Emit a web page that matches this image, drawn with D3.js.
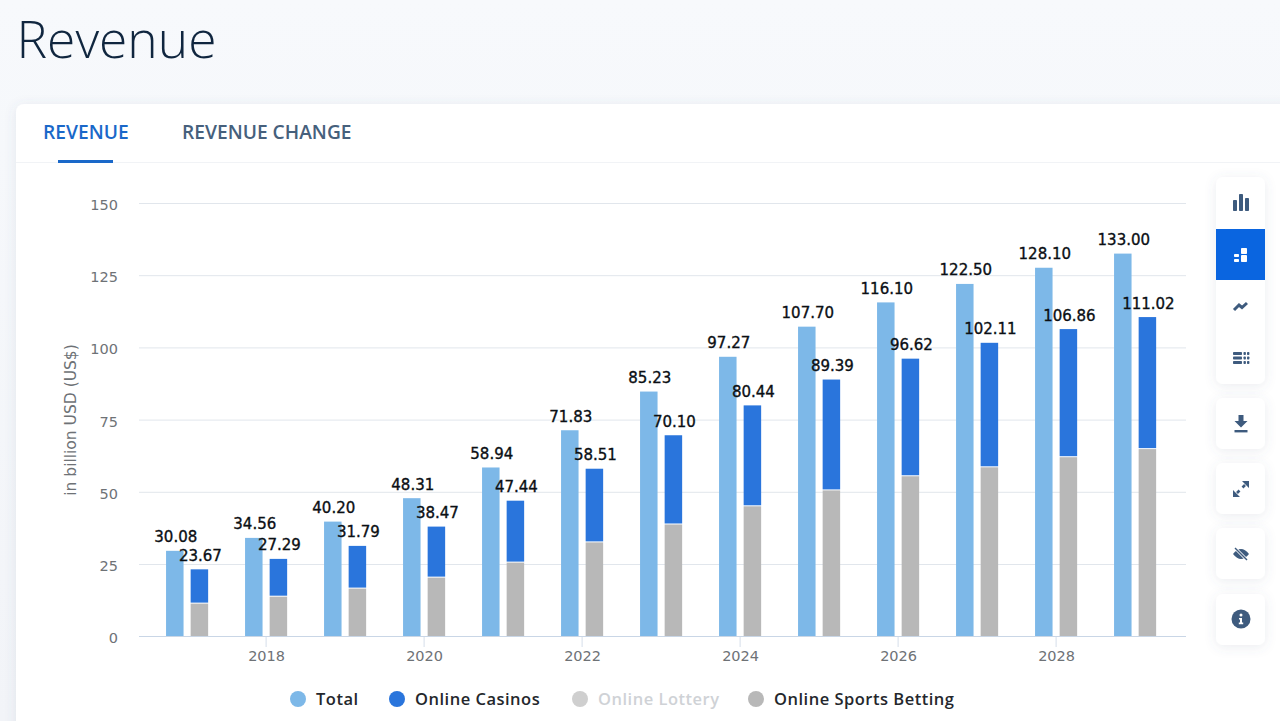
<!DOCTYPE html>
<html>
<head>
<meta charset="utf-8">
<script src="https://cdn.jsdelivr.net/npm/d3@7"></script>
<style>
  html, body { margin: 0; padding: 0; background: #f5f7fb; overflow: hidden; }
  svg { display: block; }
  .grid line { stroke: #e1e6ec; stroke-width: 1; }
  .tick-label { font-family: "DejaVu Sans", sans-serif; font-size: 14.5px; fill: #6e7276; }
  .axis-title { font-family: "DejaVu Sans", sans-serif; font-size: 15.5px; fill: #6e7276; }
  .bar-label { font-family: "DejaVu Sans", sans-serif; font-size: 15px; fill: #0b0f14; stroke: #0b0f14; stroke-width: 0.35px; text-anchor: middle; }
  .legend-label { font-family: "Open Sans", sans-serif; font-size: 16.5px; font-weight: 600; letter-spacing: 0.5px; }
</style>
</head>
<body>
<svg id="chart" width="1280" height="721"></svg>
<script>
    const years = [2017, 2018, 2019, 2020, 2021, 2022, 2023, 2024, 2025, 2026, 2027, 2028, 2029];
    const total = [30.08, 34.56, 40.20, 48.31, 58.94, 71.83, 85.23, 97.27, 107.70, 116.10, 122.50, 128.10, 133.00];
    // top of the stacked bar, this is the number printed above it
    const stackTop = [23.67, 27.29, 31.79, 38.47, 47.44, 58.51, 70.10, 80.44, 89.39, 96.62, 102.11, 106.86, 111.02];
    const sportsBetting = [11.8, 14.2, 17.0, 20.8, 26.0, 33.0, 39.2, 45.5, 51.0, 55.9, 59.0, 62.5, 65.3];
    const yTicks = [0, 25, 50, 75, 100, 125, 150];
    const xTicks = [2018, 2020, 2022, 2024, 2026, 2028];
    const legendItems = ["Total", "Online Casinos", "Online Lottery", "Online Sports Betting"];
    const legendColors = ["#7db8e8", "#2a75dc", "#cfcfcf", "#b8b8b8"];

    const svg = d3.select("#chart");
    const defs = svg.append("defs");

    // page background gets a bit darker just above the card
    const bg = defs.append("linearGradient").attr("id", "page-bg").attr("x1", 0).attr("x2", 0).attr("y1", 0).attr("y2", 1);
    bg.append("stop").attr("offset", "0%").attr("stop-color", "#f7f9fc");
    bg.append("stop").attr("offset", "100%").attr("stop-color", "#f2f4f8");
    svg.append("rect").attr("width", 1280).attr("height", 721).attr("fill", "url(#page-bg)");

    const shadow = defs.append("filter").attr("id", "soft").attr("x", "-30%").attr("y", "-30%").attr("width", "160%").attr("height", "160%");
    shadow.append("feDropShadow").attr("dx", 0).attr("dy", 2).attr("stdDeviation", 6).attr("flood-color", "#5a6b85").attr("flood-opacity", 0.12);

    // title
    svg.append("text").attr("x", 16.5).attr("y", 58)
        .attr("font-family", "'Open Sans', sans-serif").attr("font-weight", 300).attr("font-size", 51.5)
        .attr("fill", "#10263f").text("Revenue");

    // card
    svg.append("rect").attr("x", 16).attr("y", 104).attr("width", 1290).attr("height", 660).attr("rx", 8)
        .attr("fill", "#fff").attr("filter", "url(#soft)");
    svg.append("line").attr("x1", 16).attr("x2", 1280).attr("y1", 162.5).attr("y2", 162.5).attr("stroke", "#f1f3f6");

    // tabs
    svg.append("text").attr("x", 43).attr("y", 139)
        .attr("font-family", "'Open Sans', sans-serif").attr("font-weight", 600).attr("font-size", 19.2)
        .attr("fill", "#1a68c9").text("REVENUE");
    svg.append("text").attr("x", 182).attr("y", 139)
        .attr("font-family", "'Open Sans', sans-serif").attr("font-weight", 600).attr("font-size", 19.2)
        .attr("fill", "#46607c").text("REVENUE CHANGE");
    svg.append("rect").attr("x", 58).attr("y", 160).attr("width", 55).attr("height", 3).attr("fill", "#1a68c9");

    // scales
    const x = d3.scaleBand().domain(years).range([147.6, 1174.6]);
    const xSub = d3.scalePoint().domain(["total", "stack"]).range([x.bandwidth() / 2 - 12.3, x.bandwidth() / 2 + 12.3]);
    const y = d3.scaleLinear().domain([0, 150]).range([636.7, 203.5]);
    const barW = 17.5;
    const topGap = 1; // bars have a thin white edge on top

    // grid
    const grid = svg.append("g").attr("class", "grid");
    grid.selectAll("line").data(yTicks.filter(d => d > 0)).join("line")
        .attr("x1", 139).attr("x2", 1186)
        .attr("y1", d => y(d)).attr("y2", d => y(d));

    svg.selectAll(".y-label").data(yTicks).join("text")
        .attr("class", "tick-label")
        .attr("x", 118).attr("y", d => y(d) + 6.5)
        .attr("text-anchor", "end")
        .text(d => d);

    svg.append("text").attr("class", "axis-title")
        .attr("transform", "translate(76,420) rotate(-90)")
        .attr("text-anchor", "middle")
        .text("in billion USD (US$)");

    // bars
    const idx = d3.range(years.length);
    const barX = (i, key) => x(years[i]) + xSub(key) - barW / 2;

    svg.append("g").selectAll("rect").data(idx).join("rect")
        .attr("x", i => barX(i, "total")).attr("width", barW)
        .attr("y", i => y(total[i]) + topGap).attr("height", i => y(0) - y(total[i]) - topGap)
        .attr("fill", legendColors[0]);

    svg.append("g").selectAll("rect").data(idx).join("rect")
        .attr("x", i => barX(i, "stack")).attr("width", barW)
        .attr("y", i => y(stackTop[i]) + topGap).attr("height", i => y(sportsBetting[i]) - y(stackTop[i]) - topGap)
        .attr("fill", legendColors[1]);

    svg.append("g").selectAll("rect").data(idx).join("rect")
        .attr("x", i => barX(i, "stack")).attr("width", barW)
        .attr("y", i => y(sportsBetting[i]) + topGap).attr("height", i => y(0) - y(sportsBetting[i]) - topGap)
        .attr("fill", legendColors[3]);

    // x axis
    svg.append("line").attr("x1", 139).attr("x2", 1186).attr("y1", 636.5).attr("y2", 636.5)
        .attr("stroke", "#c9d6e6").attr("stroke-width", 1.2);
    svg.selectAll(".x-tick").data(xTicks).join("line")
        .attr("x1", d => x(d) + x.bandwidth() / 2).attr("x2", d => x(d) + x.bandwidth() / 2)
        .attr("y1", 637).attr("y2", 647).attr("stroke", "#d5deea");
    svg.selectAll(".x-label").data(xTicks).join("text")
        .attr("class", "tick-label")
        .attr("x", d => x(d) + x.bandwidth() / 2 + 0.5).attr("y", 661)
        .attr("text-anchor", "middle")
        .text(d => d);

    // value labels
    svg.append("g").selectAll("text").data(idx).join("text")
        .attr("class", "bar-label")
        .attr("x", i => barX(i, "total") + barW / 2 + 1).attr("y", i => y(total[i]) - 7.5)
        .text(i => total[i].toFixed(2));
    svg.append("g").selectAll("text").data(idx).join("text")
        .attr("class", "bar-label")
        .attr("x", i => barX(i, "stack") + barW / 2 + 1).attr("y", i => y(stackTop[i]) - 7.5)
        .text(i => stackTop[i].toFixed(2));

    // legend
    const legendX = [298, 397, 580, 756];
    const legend = svg.append("g").selectAll("g").data(legendItems).join("g")
        .attr("transform", (d, i) => "translate(" + legendX[i] + ",699)");
    legend.append("circle").attr("r", 8).attr("fill", (d, i) => legendColors[i]);
    legend.append("text").attr("class", "legend-label").attr("x", 18).attr("y", 6)
        .attr("fill", (d, i) => i === 2 ? "#cfd2d6" : "#24272c")
        .text(d => d);

    // toolbar on the right
    const iconColor = "#3e5b7e";
    const toolbar = svg.append("g");
    toolbar.append("rect").attr("x", 1216).attr("y", 177).attr("width", 49).attr("height", 207).attr("rx", 7)
        .attr("fill", "#fff").attr("filter", "url(#soft)");
    toolbar.append("rect").attr("x", 1216).attr("y", 229).attr("width", 49).attr("height", 51).attr("fill", "#0a65e0");
    [398, 463, 528, 594].forEach(function (top) {
        toolbar.append("rect").attr("x", 1216).attr("y", top).attr("width", 49).attr("height", 51).attr("rx", 7)
            .attr("fill", "#fff").attr("filter", "url(#soft)");
    });

    function icon(cx, cy) {
        return toolbar.append("g").attr("transform", "translate(" + cx + "," + cy + ")");
    }
    function blocks(g, list, color) {
        g.selectAll(null).data(list).join("rect")
            .attr("x", d => d[0]).attr("y", d => d[1]).attr("width", d => d[2]).attr("height", d => d[3])
            .attr("rx", 0.8).attr("fill", color);
    }

    blocks(icon(1241, 203), [[-8, -3, 4, 11], [-2, -9, 4, 17], [4, -5, 4, 13]], iconColor);
    blocks(icon(1241, 255), [[-7, -1, 5, 3], [-7, 4, 5, 3], [0, -7, 6, 6], [0, 0, 6, 7]], "#fff");

    icon(1241, 306).append("path")
        .attr("d", "M-7,4 L-2,-1 L1,1.5 L6,-3")
        .attr("fill", "none").attr("stroke", iconColor).attr("stroke-width", 3);

    blocks(icon(1241, 358), [
        [-8, -6, 9, 3], [-8, -1.5, 9, 3], [-8, 3, 9, 3],
        [2.5, -6, 2.4, 3], [2.5, -1.5, 2.4, 3], [2.5, 3, 2.4, 3],
        [6, -6, 2.4, 3], [6, -1.5, 2.4, 3], [6, 3, 2.4, 3]
    ], iconColor);

    const dl = icon(1241, 424);
    dl.append("path").attr("d", "M-2.5,-9 H2.5 V-3 H6.5 L0,3.5 L-6.5,-3 H-2.5 Z").attr("fill", iconColor);
    dl.append("rect").attr("x", -6.5).attr("y", 6).attr("width", 13).attr("height", 2.4).attr("fill", iconColor);

    const fs = icon(1241, 489);
    fs.append("path").attr("d", "M1,-8 H8 V-1 Z M-8,1 V8 H-1 Z").attr("fill", iconColor);
    fs.append("path").attr("d", "M4,-4 L1.5,-1.5 M-4,4 L-1.5,1.5").attr("stroke", iconColor).attr("stroke-width", 2.6);

    const eye = icon(1241, 554);
    eye.append("path").attr("d", "M-8,0 Q0,-10 8,0 Q0,10 -8,0 Z").attr("fill", iconColor);
    eye.append("line").attr("x1", -6).attr("y1", -6).attr("x2", 6).attr("y2", 6).attr("stroke", "#fff").attr("stroke-width", 3);
    eye.append("line").attr("x1", -6).attr("y1", -6).attr("x2", 6).attr("y2", 6).attr("stroke", iconColor).attr("stroke-width", 1.4);

    const info = icon(1241, 619);
    info.append("circle").attr("r", 9.5).attr("fill", iconColor);
    info.append("circle").attr("cy", -4).attr("r", 1.5).attr("fill", "#fff");
    info.append("path").attr("d", "M-2,-1 H1 V3.5 H2.2 V5.2 H-2.2 V3.5 H-1 V0.6 H-2 Z").attr("fill", "#fff");
</script>
</body>
</html>
